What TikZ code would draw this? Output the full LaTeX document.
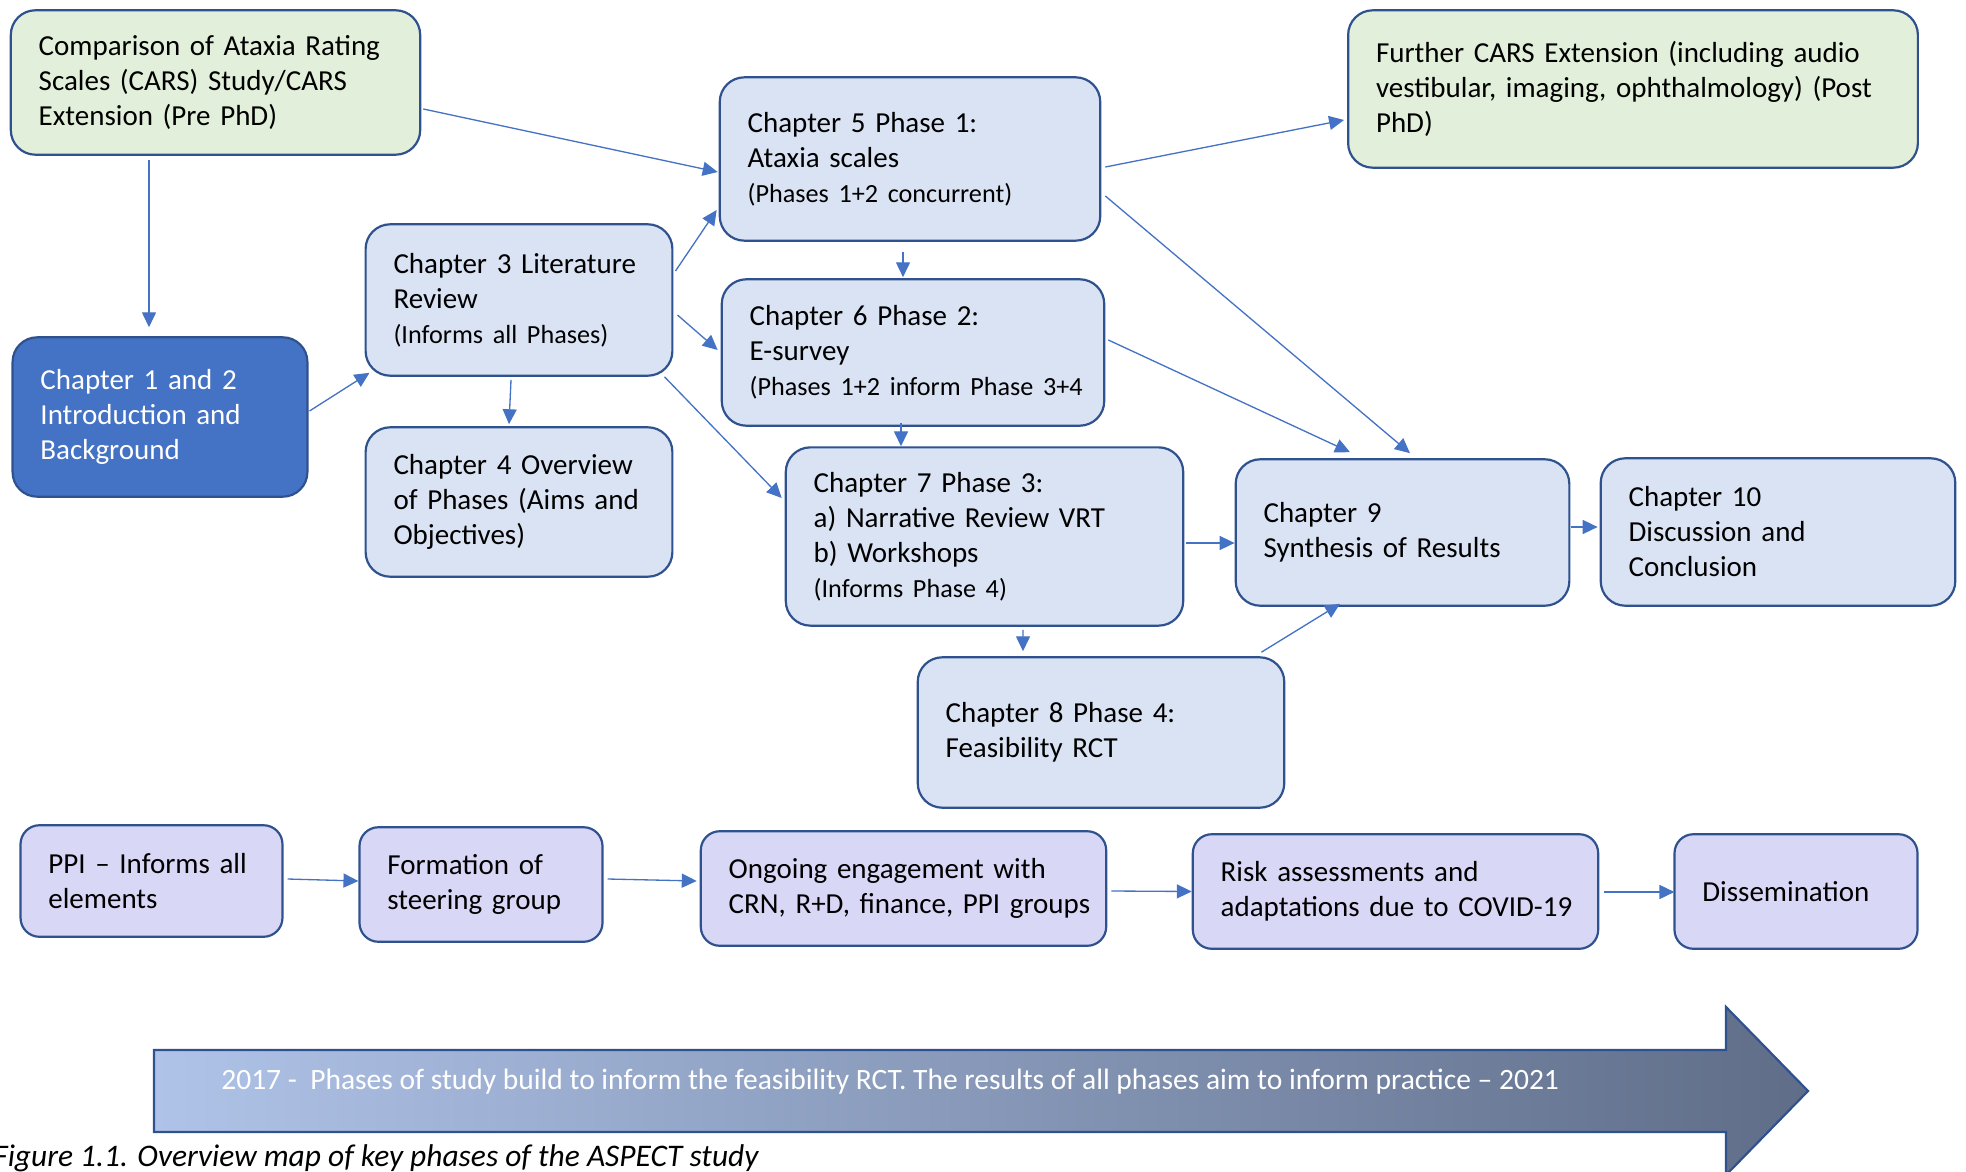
\documentclass[tikz,border=0pt]{standalone}
\usepackage{fontspec}
\setmainfont{Carlito}
\usetikzlibrary{arrows.meta,calc}

\definecolor{boxline}{HTML}{2F528F}
\definecolor{arrowblue}{HTML}{4472C4}
\definecolor{bluefill}{HTML}{DAE3F3}
\definecolor{greenfill}{HTML}{E2EFDA}
\definecolor{darkfill}{HTML}{4472C4}
\definecolor{lavfill}{HTML}{D9D7F6}
\definecolor{gradL}{HTML}{AFC3E8}
\definecolor{gradR}{HTML}{5F6D88}

% one unbreakable line of text inside a box
\newcommand\oneline[1]{\mbox{#1}}
\newcommand\smallline[1]{{\fontsize{14.9pt}{19.9pt}\selectfont\mbox{#1}}}

\tikzset{
  box/.style={draw=boxline, line width=1.25pt, rounded corners=14pt, align=left,
    inner xsep=15.87pt, inner ysep=0pt,
    font=\fontsize{16.5pt}{19.9pt}\selectfont},
  lowbox/.style={box, fill=lavfill, rounded corners=10.8pt},
  dims/.code 2 args={%
    \pgfmathsetlengthmacro\boxtw{#1*0.56693pt-31.75pt}%
    \pgfmathsetlengthmacro\boxmh{#2*0.56693pt}%
    \tikzset{text width=\boxtw, minimum height=\boxmh}},
  arr/.style={draw=arrowblue, line width=0.75pt,
    -{Triangle[length=8.5pt,width=8pt]}},
}

\begin{document}
\begin{tikzpicture}[x=0.02cm, y=-0.02cm]
\useasboundingbox (0,0) rectangle (1966,1172);

% ---- chapter boxes ----
\node[box, fill=greenfill, dims={411}{145}] (cars) at (215.5,82.5)
  {\oneline{Comparison of Ataxia Rating}\\ \oneline{Scales (CARS) Study/CARS}\\ \oneline{Extension (Pre PhD)}};
\node[box, fill=greenfill, dims={572}{158}] (further) at (1633,89)
  {\oneline{Further CARS Extension (including audio}\\ \oneline{vestibular, imaging, ophthalmology) (Post}\\ PhD)};
\node[box, fill=darkfill, text=white, dims={296}{160}] (ch1) at (160,417)
  {\oneline{Chapter 1 and 2}\\ \oneline{Introduction and}\\ Background};
\node[box, fill=bluefill, dims={308}{152}] (ch3) at (519,300)
  {\oneline{Chapter 3 Literature}\\ Review\\ \smallline{(Informs all Phases)}};
\node[box, fill=bluefill, dims={308}{150}] (ch4) at (519,502)
  {\oneline{Chapter 4 Overview}\\ \oneline{of Phases (Aims and}\\ Objectives)};
\node[box, fill=bluefill, dims={382}{164}] (ch5) at (910,159)
  {\oneline{Chapter 5 Phase 1:}\\ \oneline{Ataxia scales}\\ \smallline{(Phases 1+2 concurrent)}};
\node[box, fill=bluefill, dims={384}{147}] (ch6) at (913,352.5)
  {\oneline{Chapter 6 Phase 2:}\\ E-survey\\ \smallline{(Phases 1+2 inform Phase 3+4}};
\node[box, fill=bluefill, dims={399}{179}] (ch7) at (984.5,536.5)
  {\oneline{Chapter 7 Phase 3:}\\ \oneline{a) Narrative Review VRT}\\ \oneline{b) Workshops}\\ \smallline{(Informs Phase 4)}};
\node[box, fill=bluefill, dims={368}{151}] (ch8) at (1101,732.5)
  {\oneline{Chapter 8 Phase 4:}\\ \oneline{Feasibility RCT}};
\node[box, fill=bluefill, dims={335}{147}] (ch9) at (1402.5,532.5)
  {\oneline{Chapter 9}\\ \oneline{Synthesis of Results}};
\node[box, fill=bluefill, dims={356}{148}] (ch10) at (1778,532)
  {\oneline{Chapter 10}\\ \oneline{Discussion and}\\ Conclusion};

% ---- engagement row ----
\node[lowbox, dims={263}{112}] (ppi) at (151.5,881)
  {\oneline{PPI – Informs all}\\ elements};
\node[lowbox, dims={244}{115}] (formation) at (481,884.5)
  {\oneline{Formation of}\\ \oneline{steering group}};
\node[lowbox, dims={407}{115}] (ongoing) at (903.5,888.5)
  {\oneline{Ongoing engagement with}\\ \oneline{CRN, R+D, finance, PPI groups}};
\node[lowbox, dims={407}{115}] (risk) at (1395.5,891.5)
  {\oneline{Risk assessments and}\\ \oneline{adaptations due to COVID-19}};
\node[lowbox, dims={244}{115}] (diss) at (1796,891.5)
  {Dissemination};

% ---- connectors ----
\draw[arr] ($(cars.east)+(2,26.5)$) -- ($(ch5.west)+(-1,13)$);
\draw[arr] ($(cars.south)+(-66.5,4)$) -- ($(ch1.north)+(-11,-9)$);
\draw[arr] ($(ch1.east)+(1,-6)$) -- ($(ch3.south west)+(5,-4)$);
\draw[arr] ($(ch3.south)+(-8,3)$) -- ($(ch4.north)+(-10,-2)$);
\draw[arr] ($(ch3.east)+(2,-29)$) -- ($(ch5.west)+(-2,51)$);
\draw[arr] ($(ch3.east)+(4,15)$) -- ($(ch6.west)+(-3,-2.5)$);
\draw[arr] ($(ch3.south east)+(-9,0)$) -- ($(ch7.west)+(-3,-38.5)$);
\draw[arr] ($(ch5.south)+(-7,10)$) -- ($(ch6.north)+(-10,-1)$);
\draw[arr] ($(ch6.south)+(-12,-4)$) -- ($(ch7.north)+(-83.5,0)$);
\draw[arr] ($(ch5.east)+(4,8)$) -- ($(further.west)+(-3,31)$);
\draw[arr] ($(ch5.east)+(4,37)$) -- ($(ch9.north)+(7.5,-5)$);
\draw[arr] ($(ch6.east)+(3,-12.5)$) -- ($(ch9.north)+(-52.5,-6)$);
\draw[arr] ($(ch7.east)+(2,6.5)$) -- ($(ch9.west)+(0,10.5)$);
\draw[arr] ($(ch7.south)+(38.5,3)$) -- ($(ch8.north)+(-78,-5)$);
\draw[arr] ($(ch8.north east)+(-24,-4)$) -- ($(ch9.south)+(-62.5,-3)$);
\draw[arr] ($(ch9.east)+(1,-5.5)$) -- ($(ch10.west)+(-2,-5)$);
\draw[arr] ($(ppi.east)+(4,-2)$) -- ($(formation.west)+(0,-3.5)$);
\draw[arr] ($(formation.east)+(4,-5.5)$) -- ($(ongoing.west)+(-3,-7.5)$);
\draw[arr] ($(ongoing.east)+(4,2.5)$) -- ($(risk.west)+(0,0)$);
\draw[arr] ($(risk.east)+(5,0.5)$) -- ($(diss.west)+(1,0.5)$);

% ---- timeline arrow ----
\draw[draw=boxline, line width=1.25pt, left color=gradL, right color=gradR]
  (154,1050) -- (1726,1050) -- (1726,1007) -- (1808,1091) -- (1726,1175)
  -- (1726,1132) -- (154,1132) -- cycle;
\node[anchor=base west, inner sep=0pt, text=white,
      font=\fontsize{16.8pt}{19pt}\selectfont] (timeline) at (221,1089)
  {2017 -~ Phases of study build to inform the feasibility RCT. The results of all phases aim to inform practice – 2021};

% ---- caption ----
\node[anchor=base west, inner sep=0pt,
      font=\fontsize{17.9pt}{21pt}\selectfont\itshape] (caption) at (-7,1166)
  {Figure 1.1. Overview map of key phases of the ASPECT study};
\end{tikzpicture}
\end{document}
